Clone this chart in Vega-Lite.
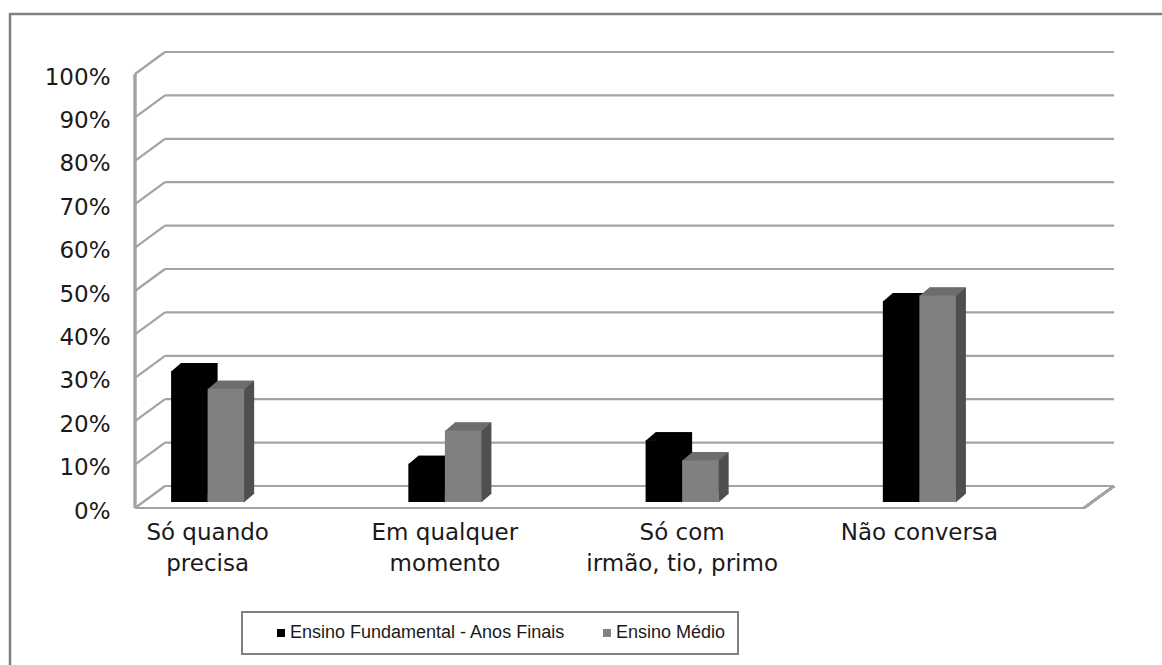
{
  "$schema": "https://vega.github.io/schema/vega-lite/v6.json",
  "usermeta": {"embedOptions": {"actions": false}},
  "width": 1156,
  "height": 655,
  "autosize": {"type": "none"},
  "padding": {"left": 10, "top": 14, "right": -4, "bottom": -4},
  "background": "white",
  "config": {
    "view": {"stroke": "#7f7f7f", "strokeWidth": 2.5},
    "font": "DejaVu Sans"
  },
  "datasets": {
    "respostas": [
      {"categoria": "Só quando\nprecisa", "serie": "Ensino Fundamental - Anos Finais", "valor": 0.302},
      {"categoria": "Só quando\nprecisa", "serie": "Ensino Médio", "valor": 0.261},
      {"categoria": "Em qualquer\nmomento", "serie": "Ensino Fundamental - Anos Finais", "valor": 0.088},
      {"categoria": "Em qualquer\nmomento", "serie": "Ensino Médio", "valor": 0.165},
      {"categoria": "Só com\nirmão, tio, primo", "serie": "Ensino Fundamental - Anos Finais", "valor": 0.142},
      {"categoria": "Só com\nirmão, tio, primo", "serie": "Ensino Médio", "valor": 0.096},
      {"categoria": "Não conversa", "serie": "Ensino Fundamental - Anos Finais", "valor": 0.463},
      {"categoria": "Não conversa", "serie": "Ensino Médio", "valor": 0.476}
    ],
    "grade": [
      {"v": 0}, {"v": 0.1}, {"v": 0.2}, {"v": 0.3}, {"v": 0.4}, {"v": 0.5},
      {"v": 0.6}, {"v": 0.7}, {"v": 0.8}, {"v": 0.9}, {"v": 1}
    ]
  },
  "resolve": {"scale": {"x": "independent"}},
  "layer": [
    {
      "data": {"name": "grade"},
      "layer": [
        {
          "mark": {"type": "rule", "color": "#a3a3a3", "strokeWidth": 2.2, "xOffset": 30, "x2Offset": 30, "yOffset": -22},
          "encoding": {
            "x": {"datum": 0, "type": "quantitative", "scale": {"domain": [0, 1], "range": [125, 1074]}, "axis": null},
            "x2": {"datum": 1},
            "y": {"field": "v", "type": "quantitative", "scale": {"domain": [0, 1], "range": [494, 60], "zero": false, "nice": false}}
          }
        },
        {
          "mark": {"type": "rule", "color": "#a3a3a3", "strokeWidth": 2.2, "x2Offset": 30, "y2Offset": -22},
          "encoding": {
            "x": {"datum": 0, "type": "quantitative", "scale": {"domain": [0, 1], "range": [125, 1074]}, "axis": null},
            "x2": {"datum": 0},
            "y": {"field": "v", "type": "quantitative"},
            "y2": {"field": "v"}
          }
        },
        {
          "mark": {"type": "rule", "color": "#a3a3a3", "strokeWidth": 2.2},
          "encoding": {
            "x": {"datum": 0, "type": "quantitative", "scale": {"domain": [0, 1], "range": [125, 1074]}, "axis": null},
            "y": {"datum": 0, "type": "quantitative"},
            "y2": {"datum": 1}
          }
        },
        {
          "mark": {"type": "rule", "color": "#a3a3a3", "strokeWidth": 2.2},
          "encoding": {
            "x": {"datum": 0, "type": "quantitative", "scale": {"domain": [0, 1], "range": [125, 1074]}, "axis": null},
            "x2": {"datum": 1},
            "y": {"datum": 0, "type": "quantitative"}
          }
        },
        {
          "mark": {"type": "rule", "color": "#a3a3a3", "strokeWidth": 2.2, "x2Offset": 30, "y2Offset": -22},
          "encoding": {
            "x": {"datum": 1, "type": "quantitative", "scale": {"domain": [0, 1], "range": [125, 1074]}, "axis": null},
            "x2": {"datum": 1},
            "y": {"datum": 0, "type": "quantitative"},
            "y2": {"datum": 0}
          }
        }
      ]
    },
    {
      "data": {"name": "respostas"},
      "resolve": {"scale": {"xOffset": "independent"}},
      "encoding": {
        "x": {
          "field": "categoria", "type": "nominal", "sort": null,
          "scale": {"range": [79, 1028], "paddingInner": 0.692, "paddingOuter": 0.346}
        }
      },
      "layer": [
        {
          "mark": {"type": "bar", "yOffset": -14, "y2Offset": -14},
          "encoding": {
            "xOffset": {
              "field": "serie", "type": "nominal",
              "scale": {"type": "band", "domain": ["Ensino Fundamental - Anos Finais", "Ensino Médio"], "range": [10, 83.07], "paddingInner": 0, "paddingOuter": 0}
            },
            "y": {"field": "valor", "type": "quantitative"},
            "y2": {"datum": 0},
            "color": {"condition": {"test": "datum.serie === 'Ensino Médio'", "value": "#4f4f4f"}, "value": "#000000"}
          }
        },
        {
          "mark": {"type": "point", "shape": "M 18 0.5 L 18 -8.5 L 28.5 -8.5 Z", "size": 4, "filled": true, "opacity": 1, "strokeWidth": 0, "yOffset": -6},
          "encoding": {
            "xOffset": {
              "field": "serie", "type": "nominal",
              "scale": {"type": "band", "domain": ["Ensino Fundamental - Anos Finais", "Ensino Médio"], "paddingInner": 0, "paddingOuter": 0}
            },
            "y": {"datum": 0, "type": "quantitative"},
            "color": {"condition": {"test": "datum.serie === 'Ensino Médio'", "value": "#4f4f4f"}, "value": "#000000"}
          }
        },
        {
          "mark": {"type": "point", "shape": "M -18.25 0.5 L -8.25 -8 L 28.25 -8 L 18.25 0.5 Z", "size": 4, "filled": true, "opacity": 1, "strokeWidth": 0, "yOffset": -6},
          "encoding": {
            "xOffset": {
              "field": "serie", "type": "nominal",
              "scale": {"type": "band", "domain": ["Ensino Fundamental - Anos Finais", "Ensino Médio"], "paddingInner": 0, "paddingOuter": 0}
            },
            "y": {"field": "valor", "type": "quantitative"},
            "color": {"condition": {"test": "datum.serie === 'Ensino Médio'", "value": "#6d6d6d"}, "value": "#000000"}
          }
        },
        {
          "mark": {"type": "bar", "yOffset": -6, "y2Offset": -6},
          "encoding": {
            "x": {
              "field": "categoria", "type": "nominal", "sort": null,
              "scale": {"range": [79, 1028], "paddingInner": 0.692, "paddingOuter": 0.346},
              "axis": {
                "title": null, "domain": false, "ticks": false, "tickSize": 0, "labelAngle": 0,
                "labelAlign": "center", "labelPadding": 4, "offset": -152, "labelBaseline": "top",
                "labelFont": "DejaVu Sans", "labelFontSize": 23, "labelColor": "#1a1a1a",
                "labelLineHeight": 31, "labelLimit": 400,
                "labelExpr": "split(datum.label, '\\n')"
              }
            },
            "xOffset": {
              "field": "serie", "type": "nominal",
              "scale": {"type": "band", "domain": ["Ensino Fundamental - Anos Finais", "Ensino Médio"], "paddingInner": 0, "paddingOuter": 0}
            },
            "y": {
              "field": "valor", "type": "quantitative",
              "axis": {
                "title": null, "values": [0, 0.1, 0.2, 0.3, 0.4, 0.5, 0.6, 0.7, 0.8, 0.9, 1],
                "format": ".0%", "domain": false, "ticks": false, "tickSize": 0, "grid": false,
                "labelPadding": 4, "offset": -104, "labelOffset": 3,
                "labelFont": "DejaVu Sans", "labelFontSize": 23, "labelColor": "#1a1a1a"
              }
            },
            "y2": {"datum": 0},
            "color": {
              "field": "serie", "type": "nominal",
              "scale": {"domain": ["Ensino Fundamental - Anos Finais", "Ensino Médio"], "range": ["#000000", "#808080"]},
              "legend": {
                "title": null, "orient": "none", "legendX": 232, "legendY": 598,
                "direction": "horizontal", "strokeColor": "#808080", "padding": 12,
                "symbolType": "square", "symbolSize": 64, "symbolStrokeWidth": 0,
                "symbolOffset": 18, "labelOffset": 0, "columnPadding": 14,
                "labelFont": "Liberation Sans", "labelFontSize": 18,
                "labelColor": "#1a1a1a", "labelLimit": 500,
                "encode": {"legend": {"update": {"strokeWidth": {"value": 2}}}}
              }
            }
          }
        }
      ]
    }
  ]
}
